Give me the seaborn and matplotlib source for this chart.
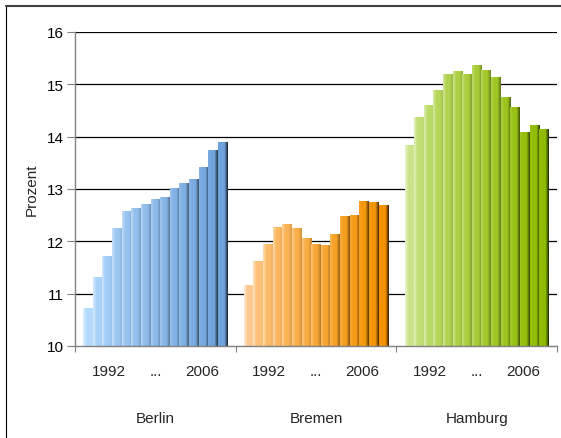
import numpy as np
import pandas as pd
import matplotlib
matplotlib.use("Agg")
import matplotlib.pyplot as plt
import matplotlib.colors as mcolors
from matplotlib.lines import Line2D
import seaborn as sns

# Anteil in Prozent, 15 Jahre je Stadt
cities = ["Berlin", "Bremen", "Hamburg"]
berlin = [10.73, 11.32, 11.72, 12.26, 12.58, 12.64, 12.72, 12.81, 12.85,
          13.02, 13.12, 13.19, 13.42, 13.75, 13.90]
bremen = [11.17, 11.63, 11.95, 12.28, 12.33, 12.26, 12.07, 11.95, 11.93,
          12.14, 12.49, 12.50, 12.77, 12.75, 12.69]
hamburg = [13.84, 14.38, 14.61, 14.89, 15.20, 15.26, 15.20, 15.37, 15.28,
           15.14, 14.76, 14.57, 14.09, 14.23, 14.15]
year_labels = ["1992", "...", "2006"]
y_ticks = [10, 11, 12, 13, 14, 15, 16]

# colour ramps (light -> base) per city
ramps = {
    "Berlin": ("#b4dbff", "#6f a3dc".replace(" ", "")),
    "Bremen": ("#ffc990", "#f49300"),
    "Hamburg": ("#cbe58a", "#8fbb00"),
}

group_w = 16.7
pad = (group_w - 15) / 2

rows = []
for g, (city, vals) in enumerate(zip(cities, [berlin, bremen, hamburg])):
    for j, v in enumerate(vals):
        rows.append({"city": city, "idx": j, "value": v,
                     "pos": round(g * group_w + pad + j + 0.5, 3)})
df = pd.DataFrame(rows)


def bar_color(city, j):
    lo, hi = ramps[city]
    t = (j / 14) ** 0.7
    return tuple(np.array(mcolors.to_rgb(lo)) * (1 - t) + np.array(mcolors.to_rgb(hi)) * t)


palette = {r.pos: bar_color(r.city, r.idx) for r in df.itertuples()}

sns.set_style("white")
plt.rcParams["font.family"] = ["Liberation Sans", "DejaVu Sans"]

fig = plt.figure(figsize=(5.61, 4.39), dpi=100)
ax = fig.add_axes([75 / 561, 1 - 347 / 439, 482 / 561, 314 / 439])

sns.barplot(data=df, x="pos", y="value", hue="pos", palette=palette,
            native_scale=True, width=1.0, dodge=False, legend=False,
            linewidth=0, ax=ax)

# cylinder-like horizontal shading on every bar
for patch, r in zip(sorted(ax.patches, key=lambda p: p.get_x()), df.itertuples()):
    base = np.array(bar_color(r.city, r.idx))
    t = r.idx / 14
    left = base * (1 - 0.6 * (1 - t)) + 0.6 * (1 - t)
    right = base * (1 - 0.8 * t ** 1.5)
    cmap = mcolors.LinearSegmentedColormap.from_list(
        "b", [left, base, base, right], N=64)
    grad = np.linspace(0, 1, 32).reshape(1, -1)
    x0 = patch.get_x()
    im = ax.imshow(grad, cmap=cmap, aspect="auto", interpolation="bilinear",
                   extent=[x0, x0 + patch.get_width(), 10, r.value], zorder=2)
    im.set_clip_path(patch)

ax.set_xlim(0, 3 * group_w)
ax.set_ylim(10, 16)
ax.set_yticks(y_ticks)
ax.set_yticklabels([str(t) for t in y_ticks], fontsize=11)
for y in y_ticks[1:]:
    ax.axhline(y, color="black", lw=0.9, zorder=0.5)

ax.set_xticks([0, group_w, 2 * group_w, 3 * group_w])
ax.set_xticklabels([])
ax.tick_params(axis="x", bottom=True, direction="out", length=4, width=0.8,
               color="#808080")
ax.tick_params(axis="y", left=True, direction="out", length=6, width=0.8,
               color="#808080", pad=2, labelcolor="black")
ax.set_xlabel("")
ax.set_ylabel("Prozent", fontsize=11, labelpad=6)

for s in ["top", "right"]:
    ax.spines[s].set_visible(False)
for s in ["left", "bottom"]:
    ax.spines[s].set_color("#808080")
    ax.spines[s].set_linewidth(1.0)
    ax.spines[s].set_zorder(3)

trans = ax.get_xaxis_transform()
for g, city in enumerate(cities):
    c = g * group_w + group_w / 2
    for off, lab in zip([-4.85, 0, 4.85], year_labels):
        ax.text(c + off, -0.08, lab, transform=trans, ha="center", va="center",
                fontsize=11)
    ax.text(c, -0.229, city, transform=trans, ha="center", va="center",
            fontsize=11)

# outer chart frame (left and top edges visible)
fig.add_artist(Line2D([6 / 561, 6 / 561], [0, 1 - 7 / 439], color="black",
                      lw=0.8, transform=fig.transFigure))
fig.add_artist(Line2D([6 / 561, 1], [1 - 7 / 439, 1 - 7 / 439], color="#404040",
                      lw=1.5, transform=fig.transFigure))

fig.savefig("out.png", dpi=100)
